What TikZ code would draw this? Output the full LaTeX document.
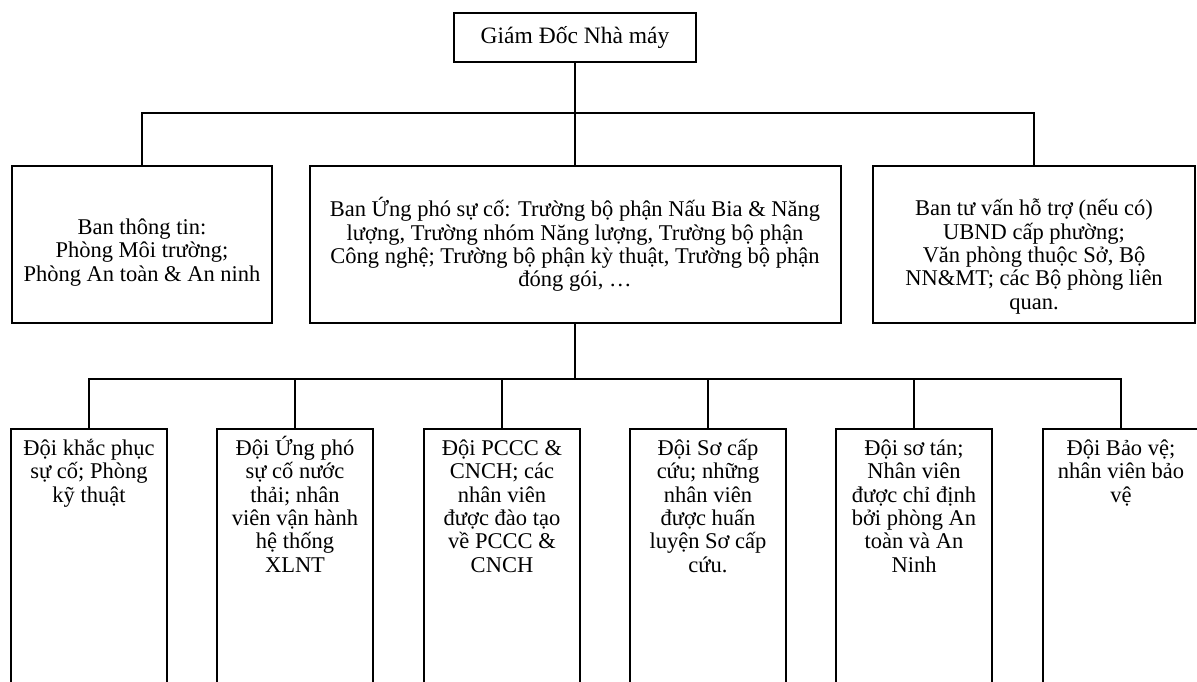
\documentclass[tikz,border=0pt]{standalone}
\usepackage{fontspec}
\setmainfont{Liberation Serif}
\usetikzlibrary{positioning}

\newcommand{\capline}{\vphantom{Ứ}}

\tikzset{
  orgbox/.style={draw, line width=2pt, align=center, inner sep=0pt,
    font=\fontsize{22.5}{23.3}\selectfont},
  teambox/.style={draw, line width=2pt, minimum width=156, minimum height=320,
    anchor=north, inner sep=0pt},
  teamtext/.style={align=center, inner sep=0pt,
    font=\fontsize{22.5}{23.3}\selectfont},
  link/.style={line width=2pt},
}

\begin{document}
\begin{tikzpicture}[x=1pt, y=-1pt]
    \useasboundingbox (0,0) rectangle (1197,682);
    \clip (0,0) rectangle (1197,682);

    % director
    \node[orgbox, minimum width=242, minimum height=49,
      font=\fontsize{23.5}{24}\selectfont] (gd) at (575,37.5) {Giám Đốc Nhà máy};

    % second level
    \node[orgbox, minimum width=260, minimum height=157] (ban1) at (142,244.5) {};
    \node[teamtext] (ban1t) at ([yshift=-8pt]ban1.center)
      {Ban thông tin:\\Phòng Môi trường;\\Phòng An toàn \& An ninh};
    \node[orgbox, minimum width=531, minimum height=157] (ban2) at (575,244.5)
      {Ban Ứng phó sự cố: Trường bộ phận Nấu Bia \& Năng\\lượng, Trường nhóm Năng lượng, Trường bộ phận\\Công nghệ; Trường bộ phận kỳ thuật, Trường bộ phận\\đóng gói, …};
    \node[orgbox, minimum width=322, minimum height=157] (ban3) at (1034,244.5) {};
    \node[teamtext, below=34pt of ban3.north] (ban3t)
      {Ban tư vấn hỗ trợ (nếu có)\\UBND cấp phường;\\Văn phòng thuộc Sở, Bộ\\NN\&MT; các Bộ phòng liên\\quan.};

    \draw[link] (gd.south) -- (ban2.north);
    \draw[link] (ban1.north) -- ++(0,-52) -| (ban3.north);

    % teams
    \node[teambox] (d1) at (89,428) {};
    \node[teambox] (d2) at (295,428) {};
    \node[teambox] (d3) at (502,428) {};
    \node[teambox] (d4) at (708,428) {};
    \node[teambox] (d5) at (914,428) {};
    \node[teambox] (d6) at (1121,428) {};

    \node[teamtext, below=8pt of d1.north] (d1t) {\capline Đội khắc phục\\sự cố; Phòng\\kỹ thuật};
    \node[teamtext, below=8pt of d2.north] (d2t) {\capline Đội Ứng phó\\sự cố nước\\thải; nhân\\viên vận hành\\hệ thống\\XLNT};
    \node[teamtext, below=8pt of d3.north] (d3t) {\capline Đội PCCC \&\\CNCH; các\\nhân viên\\được đào tạo\\về PCCC \&\\CNCH};
    \node[teamtext, below=8pt of d4.north] (d4t) {\capline Đội Sơ cấp\\cứu; những\\nhân viên\\được huấn\\luyện Sơ cấp\\cứu.};
    \node[teamtext, below=8pt of d5.north] (d5t) {\capline Đội sơ tán;\\Nhân viên\\được chỉ định\\bởi phòng An\\toàn và An\\Ninh};
    \node[teamtext, below=8pt of d6.north] (d6t) {\capline Đội Bảo vệ;\\nhân viên bảo\\vệ};

    \draw[link] (ban2.south) -- ++(0,56);
    \draw[link] (d1.north) -- ++(0,-49) -| (d6.north);
    \draw[link] (d2.north) -- ++(0,-49);
    \draw[link] (d3.north) -- ++(0,-49);
    \draw[link] (d4.north) -- ++(0,-49);
    \draw[link] (d5.north) -- ++(0,-49);
\end{tikzpicture}
\end{document}
